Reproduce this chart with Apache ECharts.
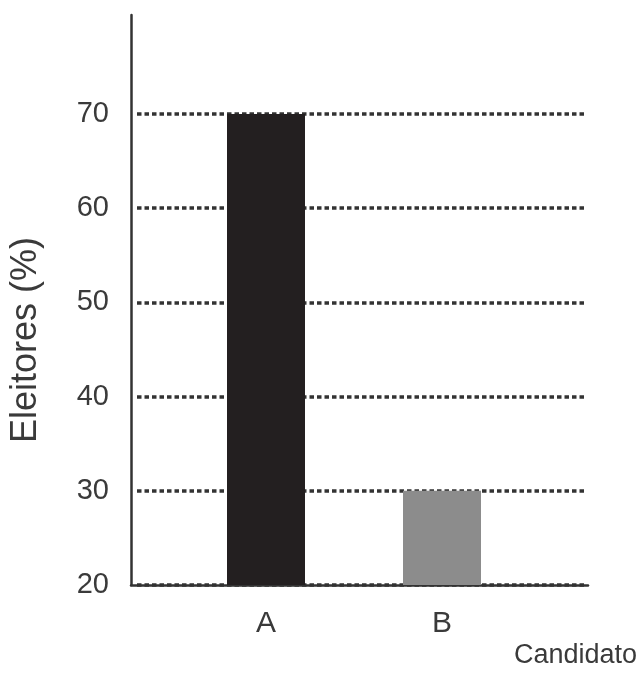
<!DOCTYPE html>
<html>
<head>
<meta charset="utf-8">
<script src="https://cdn.jsdelivr.net/npm/echarts@6/dist/echarts.min.js"></script>
<style>html,body{margin:0;padding:0;background:#fff}#c{width:640px;height:673px}</style>
</head>
<body>
<div id="c"></div>
<script>
const categories = ['A', 'B'];
const values = [70, 30];
const barColors = ['#231f20', '#8c8c8c'];
const yMin = 20;
const yMax = 70;
const yStep = 10;
const xName = 'Candidato';
const yName = 'Eleitores (%)';

const sans = "'Liberation Sans', Arial, Helvetica, sans-serif";
const textColor = '#3a3a3a';

const chart = echarts.init(document.getElementById('c'));
chart.setOption({
  animation: false,
  backgroundColor: '#fff',
  grid: [
    { left: 131, right: 52, top: 15, bottom: 88 },
    { left: 131, right: 54, top: 114, bottom: 88 },
    { left: 178, right: 110, top: 114, bottom: 88 }
  ],
  xAxis: [
    {
      gridIndex: 0, type: 'value', min: 0, max: 1,
      axisLine: { show: true, lineStyle: { color: '#333', width: 2.5 } },
      axisTick: { show: false }, axisLabel: { show: false }, splitLine: { show: false },
      name: '{n|' + xName + '}', nameLocation: 'end', nameGap: 49,
      nameTextStyle: {
        align: 'right', verticalAlign: 'middle',
        rich: { n: { fontFamily: sans, fontSize: 27, color: textColor, padding: [142, 0, 0, 0] } }
      }
    },
    { gridIndex: 1, type: 'value', min: 0, max: 1, show: false },
    {
      gridIndex: 2, type: 'category', data: categories,
      axisLine: { show: false }, axisTick: { show: false },
      axisLabel: { margin: 24, fontFamily: sans, fontSize: 30, color: textColor }
    }
  ],
  yAxis: [
    {
      gridIndex: 0, type: 'value', min: 0, max: 1,
      axisLine: { show: true, lineStyle: { color: '#333', width: 2.5 } },
      axisTick: { show: false }, axisLabel: { show: false }, splitLine: { show: false }
    },
    {
      gridIndex: 1, type: 'value', min: yMin, max: yMax, interval: yStep,
      axisLine: { show: false }, axisTick: { show: false },
      axisLabel: { margin: 28, fontFamily: sans, fontSize: 29, color: textColor },
      splitLine: { show: true, lineStyle: { type: [4.5, 3], width: 3.5, color: '#333' } },
      name: yName, nameLocation: 'middle', nameRotate: 90, nameGap: 93,
      nameTextStyle: { fontFamily: sans, fontSize: 36, color: textColor, padding: [0, 0, 0, 19] }
    },
    { gridIndex: 2, type: 'value', min: yMin, max: yMax, show: false }
  ],
  series: [{
    type: 'bar', xAxisIndex: 2, yAxisIndex: 2, barWidth: 78,
    data: values.map((v, i) => ({ value: v, itemStyle: { color: barColors[i] } }))
  }]
});
</script>
</body>
</html>
